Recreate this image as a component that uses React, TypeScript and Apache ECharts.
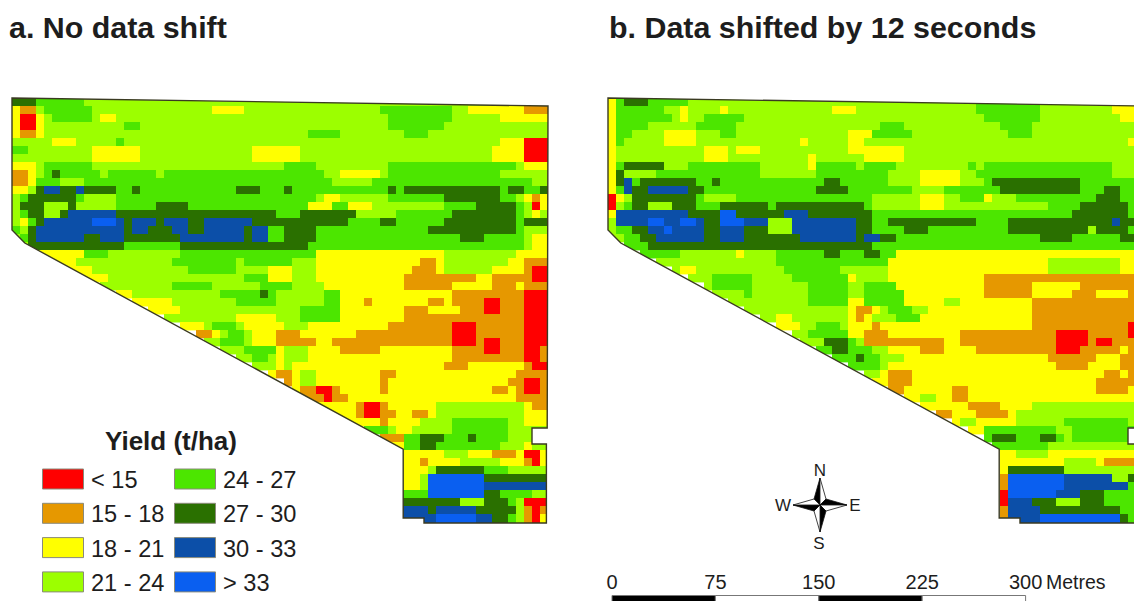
import React, { useEffect, useRef } from "react";
import * as echarts from "echarts";

const TITLES = ["a. No data shift", "b. Data shifted by 12 seconds"];
const LEGEND_TITLE = "Yield (t/ha)";
const CLASS_KEYS = ["r", "o", "y", "g", "m", "d", "b", "B"];
const CLASS_LABELS = ["< 15", "15 - 18", "18 - 21", "21 - 24", "24 - 27", "27 - 30", "30 - 33", "> 33"];
const CLASS_COLORS = ["#ff0000", "#e69800", "#ffff00", "#9cff00", "#4ce600", "#2a7000", "#0c4fa8", "#0a5ff0"];
const SCALE_LABELS = ["0", "75", "150", "225", "300"];
const COMPASS = ["N", "E", "S", "W"];

// Field outline in map cells [column, row]
const FIELD = [[0, 0], [67, 1], [66.9, 41.25], [65, 41.25], [65, 43.25], [66.8, 43.25], [66.8, 53.12], [51.5, 53.12], [51.5, 52.5], [48.9, 52.5], [48.9, 43.9], [1.6, 18.13], [0, 16.5]];

// Each row: class letter + first column of the run
const MAP_A = [
"d0 m3 g9",
"y0 o1 g3 m4 g10 y25 g29 m46 g55 y57 o64",
"y0 r1 y3 g4 m5 g10 y11 g13 m47 g55 y61",
"y0 r1 y3 g4 m14 g16 m47 g54",
"y0 o1 y3 g4 m37 g41 m49 g52",
"g0 y5 g8 m13 g14 y61 r64",
"m0 g2 y10 g16 y30 g36 y60 r64",
"g0 y10 g16 y30 g36 y60 r64",
"y0 g3 m4 g10 m34 g38 m47 g63 y64",
"o0 y2 g3 m4 d5 m6 g11 m12 g18 m19 g39 y41 g46 m47 g61",
"o0 y2 m3 g6 m9 g40 m45 g65",
"y0 g2 d3 b4 d6 b8 d9 m13 d15 m16 d28 m31 d34 m35 d47 m48 d49 m61 d62 m64 d66",
"g0 m1 d2 m8 g9 m13 g38 y39 g41 m47 d54 m61 g63 y64 o65 y66",
"g0 d1 g4 d7 g8 m13 d18 m22 y37 m40 y42 g45 m54 d58 m63 g64 r65 y66",
"g0 m1 d2 g4 d6 b7 d13 m33 d36 g43 m48 d55 m63 g64 y65 g66",
"g0 y1 m2 d3 b4 B10 b13 d14 b15 d18 b19 d22 b24 d30 m42 d46 m48 d54 m63 d64",
"m0 g1 d2 b3 d14 b15 d17 b20 d22 b24 d29 b30 m32 d34 m38 d52 m63 g64",
"g0 m1 d2 b3 d9 b11 d14 b21 d29 b30 m32 d34 m38 d56 m59 g64 y65",
"g0 d2 m14 d21 m37 g64 y65",
"y3 m9 g12 m21 y38 g54 y63",
"y5 g8 m20 g28 m29 g35 y38 o51 y53 g54 y62 o64",
"y7 g10 m22 g28 y32 g35 y38 o50 y53 g54 y60 o64 r65",
"y9 g12 m29 y32 g35 y38 o49 y58 o60 r65",
"g11 m20 g25 m31 g35 y39 o49 y55 o60 y63 o64",
"y13 g15 m26 d31 m32 g33 m39 y41 o55 r64",
"y15 g20 m28 g33 m39 y41 o44 y45 o52 y54 o55 r59 o61 r64",
"y17 g21 m36 y41 o49 y52 o56 r59 o61 r64",
"g19 y28 g33 m36 y41 o49 r64",
"y21 g24 m25 g28 y29 g34 y37 o47 r55 o58 r64",
"o23 y25 g26 m27 g29 y30 o33 y36 o43 r55 o58 r64",
"g24 m26 g29 y30 o33 y38 o40 r55 o58 r59 o61 r64",
"g26 m29 y33 g34 y37 o41 y46 o55 r59 o61 r64 o66",
"g28 m30 g32 y33 g34 y37 o55 r64 o66",
"g30 y33 g34 y35 o54 y57 o64 r65",
"y32 o33 y35 g36 y38 o46 y48 o63",
"o34 y35 g36 y38 o46 y47 o62 r64 o66",
"y35 o36 r38 o40 y41 o46 y47 o60 y62 o63 r64 o66",
"o36 r39 o40 y42 o63",
"y38 o43 r44 o46 y47 g53 y64 o65",
"y40 o43 r44 o46 y48 o50 y52 g53 y64",
"y42 o46 y47 g51 m55 g62 y64",
"m44 g47 y48 g50 m55 g62",
"o46 m49 d51 m54 d57 m58 g62",
"y47 m49 d51 m53 g61 y64 g65",
"y48 g54 y57 o60 y63 r64 y66",
"y48 o51 y52 g56 y61 o64 r65 y66",
"y48 g52 d53 m59 g62",
"y48 g51 B52 d59",
"y48 g51 B52 b59",
"m48 B52 d59 m61 g65",
"d48 g56 d59 m62 g63 r64",
"b48 d52 b53 d58 g63 o64 r65 o66",
"b48 B53 b58 d60 m62 g63 o64 r65 y66",
"b48 B53 b58 d60 m62 g63 o64 r65 y66",
];

const MAP_B = [
"y0 m1 d2 m5 g10 m46 g54 y63",
"y0 m1 g7 y9 g10 y14 g15 y28 g31 m46 g54 y63",
"y0 m1 g8 y9 g10 m12 g17 m47 g54 y64",
"y0 m1 g5 m11 g16 m34 g37 m49 g53",
"y0 m1 g3 y7 g11 m14 g16 y30 m33 g38 m50 g53",
"y0 m1 g2 y7 g11 y24 g25 y30 g32 y65",
"y0 g1 y12 g15 y16 g19 y30 g37",
"y0 g1 y12 g15 y25 g26 y32 g37",
"y0 m1 d2 g7 m10 g19 y25 m26 g31 m32 g36 m45 g46 m47 g63",
"y0 d1 g2 m6 g19 m26 g35 y39 g44 m46 g63",
"y0 d1 b2 m3 d4 m11 d13 m14 d27 m29 g35 y39 g44 m47 d48 m59",
"y0 m1 b2 d3 b5 d10 m12 d26 m30 g38 m42 d49 m59 d62 m64",
"r0 y1 g2 d3 m11 g12 m16 g33 y39 g42 m44 y47 g48 m51 d61 m64",
"r0 g1 m2 d3 g5 d8 m11 d14 m20 d21 m32 g33 y39 g42 m55 d59 m65",
"y0 b1 d10 B14 d16 b22 d25 m33 d58 m65",
"g0 b1 B5 b7 B9 b11 d12 B14 b17 g20 b23 d31 m33 d35 m46 d50 b63 d64 m66",
"g0 m1 d3 b5 B7 b8 d12 b14 d17 g20 b23 d31 m33 d37 m40 d50 g60 d61 m65",
"g0 m2 d4 b6 d12 b14 d17 b24 d31 b32 d34 m36 d54 m58 d64 m66",
"m2 d5 m33",
"m4 g9 y16 g17 m21 d27 m29 d32 m34 y36",
"g6 m21 y35 g55 y64",
"g8 y9 g11 m22 g29 y35 g55 y64",
"g10 m13 g18 m23 y30 g31 y35 o47",
"g12 m13 g18 m25 g30 m32 y36 o47 y53 o59",
"g13 m17 g18 m25 g30 m32 y37 o47 y53 o58 y61 o65",
"g15 m25 y30 m32 y37 g42 y44 o53",
"g17 y30 o31 y33 g34 m35 g38 y40 o53",
"g19 y21 g23 y30 o31 y32 g33 m36 y39 o53",
"y21 g24 m26 g29 y30 o33 y34 o53 r65",
"g23 m25 y30 o32 y35 o44 r56 o60 r65",
"g24 d27 m30 g31 o32 y42 o44 r56 o60 r61 o63",
"m26 d28 m30 g33 y35 o39 y42 o46 r56 o59 y64 o65",
"m28 d31 m32 g34 y37 o55 y61 o64",
"m30 g34 y35 o56 y60 o64",
"g32 y34 o35 y38 o62 y64 o65",
"y33 o35 y38 o61",
"o35 y37 o43 y45 o61 y65",
"y37 g39 y41 o43 y45",
"y39 o45 y49 g53",
"o41 y43 o46 y50 g51",
"y43 g44 y46 g51 m57 g65",
"y45 m47 g56 m58",
"m47 d48 m51 d54 m56 g57 m58",
"m48 g55",
"y49 g51 y55",
"y49 g57 y61 o62",
"y49 d50 g57",
"o49 B50 b57 g63 d65 m66",
"o49 B50 b57 m65",
"r49 B50 b56 d59 m62",
"r49 b50 d53 g56 d59 m62",
"o49 b50 d54 m64",
"o49 b50 B54 d64 m65",
"o49 b50 B54 d64 m65",
];

const COLS = 67;
const ROWS = 54;
const CELL = 8;
const GRID_B_LEFT = 608;
const GRID_B_WIDTH = 1134 - GRID_B_LEFT;
const FONT = "Liberation Sans";
const TEXT = "#1d1d1d";

function toRuns(rows: string[]) {
  const out: number[][] = [];
  rows.forEach((row, r) => {
    const tokens = row.split(" ");
    tokens.forEach((t, i) => {
      const start = parseInt(t.slice(1), 10);
      const end = i + 1 < tokens.length ? parseInt(tokens[i + 1].slice(1), 10) : COLS;
      out.push([start, r, end - start, CLASS_KEYS.indexOf(t[0])]);
    });
  });
  return out;
}

function cellSeries(rows: string[], idx: number) {
  return {
    type: "custom",
    xAxisIndex: idx,
    yAxisIndex: idx,
    silent: true,
    z: 2,
    data: toRuns(rows),
    encode: { x: 0, y: 1 },
    renderItem: (_: any, api: any) => {
      const p = api.coord([api.value(0), api.value(1)]);
      const s = api.size([api.value(2), 1]);
      return {
        type: "rect",
        shape: { x: p[0], y: p[1], width: s[0] + 0.4, height: s[1] + 0.4 },
        style: { fill: CLASS_COLORS[api.value(3)], stroke: "none" },
      };
    },
  };
}

function maskSeries(idx: number) {
  const outer = [[-2, -4], [69, -4], [69, 56], [-2, 56], [-2, -4]];
  const pts = [...outer, ...FIELD.concat([FIELD[0]]).slice().reverse(), [-2, -4]];
  return {
    type: "custom",
    xAxisIndex: idx,
    yAxisIndex: idx,
    silent: true,
    z: 3,
    data: [[0, 0]],
    renderItem: (_: any, api: any) => ({
      type: "polygon",
      shape: { points: pts.map((q) => api.coord(q)) },
      style: { fill: "#ffffff", stroke: "none" },
    }),
  };
}

function outlineSeries(idx: number) {
  return {
    type: "custom",
    xAxisIndex: idx,
    yAxisIndex: idx,
    silent: true,
    z: 4,
    data: [[0, 0]],
    renderItem: (_: any, api: any) => ({
      type: "polygon",
      shape: { points: FIELD.map((q) => api.coord(q)) },
      style: { fill: "none", stroke: "#3a3a22", lineWidth: 1.4 },
    }),
  };
}

function legendGraphics() {
  const items: any[] = [
    { type: "text", z: 10, x: 171, y: 441, style: { text: LEGEND_TITLE, font: `bold 26px "${FONT}"`, fill: TEXT, textAlign: "center", textVerticalAlign: "middle" } },
  ];
  CLASS_LABELS.forEach((label, i) => {
    const col = i < 4 ? 0 : 1;
    const row = i % 4;
    const sx = col === 0 ? 42.5 : 174.5;
    const y = 469 + row * 34.3;
    items.push({ type: "rect", z: 10, shape: { x: sx, y, width: 41, height: 20 }, style: { fill: CLASS_COLORS[i], stroke: "#8a8a7a", lineWidth: 1 } });
    items.push({ type: "text", z: 10, x: col === 0 ? 91 : 223, y: y + 11, style: { text: label, font: `23.6px "${FONT}"`, fill: TEXT, textVerticalAlign: "middle" } });
  });
  return items;
}

function scaleGraphics() {
  const items: any[] = [];
  const x0 = 612;
  const w = 103.4;
  SCALE_LABELS.forEach((label, i) => {
    items.push({ type: "text", z: 10, x: x0 + i * w, y: 582, style: { text: label, font: `20px "${FONT}"`, fill: TEXT, textAlign: "center", textVerticalAlign: "middle" } });
    if (i < 4) {
      items.push({ type: "rect", z: 10, shape: { x: x0 + i * w, y: 595.5, width: w, height: 10 }, style: { fill: i % 2 ? "#ffffff" : "#000000", stroke: "#777", lineWidth: 1 } });
    }
  });
  items.push({ type: "text", z: 10, x: 1046, y: 582, style: { text: "Metres", font: `19.5px "${FONT}"`, fill: TEXT, textVerticalAlign: "middle" } });
  return items;
}

function compassGraphics() {
  const cx = 820;
  const cy = 505;
  const L = 27;
  const t = 6;
  const items: any[] = [];
  const arm = (tip: number[], side: number[], fill: string) => ({
    type: "polygon",
    z: 10,
    shape: { points: [[cx, cy], [cx + tip[0], cy + tip[1]], [cx + side[0], cy + side[1]]] },
    style: { fill, stroke: "#111", lineWidth: 0.8 },
  });
  items.push(arm([0, -L], [-t, -t], "#000"), arm([0, -L], [t, -t], "#fff"));
  items.push(arm([L, 0], [t, -t], "#000"), arm([L, 0], [t, t], "#fff"));
  items.push(arm([0, L], [t, t], "#000"), arm([0, L], [-t, t], "#fff"));
  items.push(arm([-L, 0], [-t, t], "#000"), arm([-L, 0], [-t, -t], "#fff"));
  const spots = [[cx, 470], [855, 505], [819, 543], [783, 505]];
  COMPASS.forEach((c, i) => {
    items.push({ type: "text", z: 10, x: spots[i][0], y: spots[i][1], style: { text: c, font: `17px "${FONT}"`, fill: TEXT, textAlign: "center", textVerticalAlign: "middle" } });
  });
  return items;
}

export default function App() {
  const ref = useRef<HTMLDivElement>(null);
  useEffect(() => {
    const chart = echarts.init(ref.current!, undefined, { renderer: "svg" });
    const axisY = (gridIndex: number) => ({ type: "value", gridIndex, min: 0, max: ROWS, inverse: true, show: false });
    const titleStyle = { fontFamily: FONT, fontSize: 30.4, fontWeight: "bold", color: TEXT };
    chart.setOption({
      animation: false,
      backgroundColor: "#ffffff",
      title: [
        { text: TITLES[0], left: 9, top: 12, padding: 0, textStyle: titleStyle },
        { text: TITLES[1], left: 609, top: 12, padding: 0, textStyle: titleStyle },
      ],
      grid: [
        { left: 12, top: 98, width: COLS * CELL, height: ROWS * CELL },
        { left: GRID_B_LEFT, top: 98, width: GRID_B_WIDTH, height: ROWS * CELL },
      ],
      xAxis: [
        { type: "value", gridIndex: 0, min: 0, max: COLS, show: false },
        { type: "value", gridIndex: 1, min: 0, max: GRID_B_WIDTH / CELL, show: false },
      ],
      yAxis: [axisY(0), axisY(1)],
      series: [cellSeries(MAP_A, 0), cellSeries(MAP_B, 1), maskSeries(0), maskSeries(1), outlineSeries(0), outlineSeries(1)],
      graphic: { elements: [...legendGraphics(), ...scaleGraphics(), ...compassGraphics()] },
    });
    return () => chart.dispose();
  }, []);
  return <div ref={ref} style={{ position: "absolute", left: 0, top: 0, width: 1134, height: 601 }} />;
}
